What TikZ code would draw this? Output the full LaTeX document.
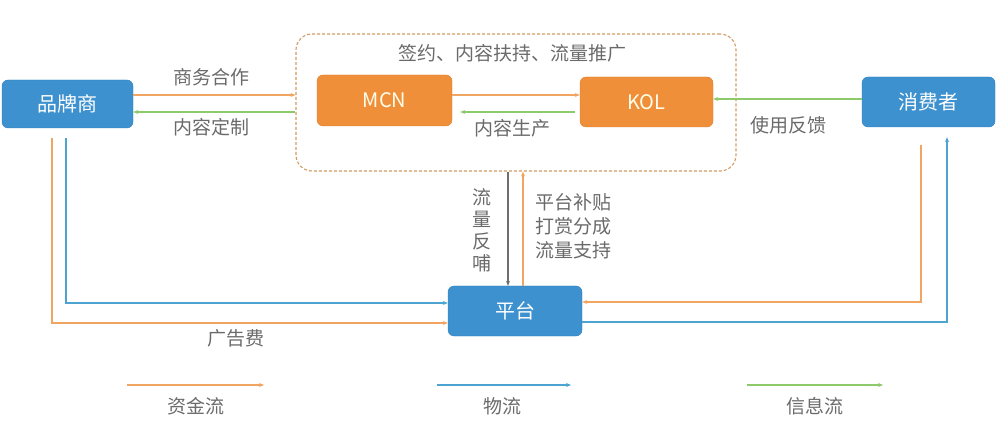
\documentclass[tikz,border=0pt]{standalone}
\usepackage{fontspec}
\setmainfont{Noto Sans CJK SC}
\usetikzlibrary{arrows.meta}
\definecolor{boxblue}{HTML}{3D91CF}
\definecolor{boxblueD}{HTML}{2F7FBC}
\definecolor{boxorange}{HTML}{EF8F3A}
\definecolor{boxorangeD}{HTML}{E07F2C}
\definecolor{lorange}{HTML}{F0A562}
\definecolor{dorange}{HTML}{D29A62}
\definecolor{lgreen}{HTML}{8DCA6C}
\definecolor{lblue}{HTML}{4DA3D2}
\definecolor{lgray}{HTML}{6E6E6E}
\definecolor{txt}{HTML}{6A6A6A}
\tikzset{
  bluebox/.style={draw=boxblueD, fill=boxblue, rounded corners=6pt, text=white,
    minimum width=133pt, minimum height=50pt, inner sep=0pt, font=\fontsize{20}{22}\selectfont},
  orangebox/.style={draw=boxorangeD, fill=boxorange, rounded corners=6pt, text=white!92!yellow,
    minimum width=134pt, minimum height=50pt, inner sep=0pt, font=\fontsize{20}{22}\selectfont},
  container/.style={draw=dorange, line width=1.1pt, dash pattern=on 3pt off 2pt, rounded corners=16pt,
    minimum width=440pt, minimum height=137pt, inner sep=0pt},
  lbl/.style={text=txt, inner sep=0pt, font=\fontsize{19}{24}\selectfont},
  tip/.style={-{Stealth[length=5pt,width=4pt]}},
  money/.style={tip, draw=lorange, line width=1.6pt},
  info/.style={tip, draw=lgreen, line width=1.6pt},
  goods/.style={tip, draw=lblue, line width=1.6pt},
  back/.style={tip, draw=lgray, line width=1.2pt},
}
\begin{document}
\begin{tikzpicture}[x=1pt,y=-1pt]
\useasboundingbox (0,0) rectangle (1000,427);
% nodes
\node[container] (box) at (516,102.5) {};
\node[bluebox, minimum width=131pt, minimum height=48pt] (brand) at (67.5,104) {品牌商};
\node[orangebox, minimum width=135pt, minimum height=51pt] (mcn) at (384.5,100.5) {MCN};
\node[orangebox, minimum width=133pt] (kol) at (646.5,102) {KOL};
\node[bluebox] (cons) at (928.5,102) {消费者};
\node[bluebox, minimum width=134pt] (plat) at (515,311) {平台};
% row coordinates
\coordinate (r1) at (0,95);
\coordinate (r2) at (0,112);
\coordinate (r3) at (0,99);
\coordinate (lo) at (52,323);
\coordinate (lb) at (66,303);
\coordinate (ro) at (921,302);
\coordinate (rb) at (947,322);
\coordinate (vg) at (508,0);
\coordinate (vo) at (523,0);
% connectors
\draw[money] (brand.east |- r1) -- (box.west |- r1);
\draw[info] (box.west |- r2) -- (brand.east |- r2);
\draw[money] (mcn.east |- r1) -- (kol.west |- r1);
\draw[info, shorten <=5pt, shorten >=8pt] (kol.west |- r2) -- (mcn.east |- r2);
\draw[info] (cons.west |- r3) -- (kol.east |- r3);
\draw[back] (box.south -| vg) -- (plat.north -| vg);
\draw[money] (plat.north -| vo) -- (box.south -| vo);
\draw[money, shorten <=10pt] (brand.south -| lo) -- (lo) -- (plat.west |- lo);
\draw[goods, shorten <=10pt] (brand.south -| lb) -- (lb) -- (plat.west |- lb);
\draw[money, shorten <=18pt] (cons.south -| ro) -- (ro) -- (plat.east |- ro);
\draw[goods, shorten >=10pt] (plat.east |- rb) -- (rb) -- (cons.south -| rb);
% labels
\node[lbl] (l1) at (211,77) {商务合作};
\node[lbl] (l2) at (211,127) {内容定制};
\node[lbl] (l3) at (512,53) {签约、内容扶持、流量推广};
\node[lbl] (l4) at (512,128) {内容生产};
\node[lbl] (l5) at (788,125) {使用反馈};
\node[lbl, align=center, font=\fontsize{19}{22}\selectfont] (l6) at (482,230) {流\\量\\反\\哺};
\node[lbl, align=left, anchor=west] (l7) at (535,226) {平台补贴\\打赏分成\\流量支持};
\node[lbl] (l8) at (236,338) {广告费};
% legend
\coordinate (a1) at (127,385); \coordinate (a2) at (264,385);
\coordinate (b1) at (437,385); \coordinate (b2) at (571,385);
\coordinate (c1) at (747,385); \coordinate (c2) at (883,385);
\draw[money, line width=1.4pt] (a1) -- (a2);
\draw[goods, line width=1.4pt] (b1) -- (b2);
\draw[info, line width=1.4pt] (c1) -- (c2);
\node[lbl] (g1) at (196,406) {资金流};
\node[lbl] (g2) at (502,406) {物流};
\node[lbl] (g3) at (815,406) {信息流};
\end{tikzpicture}
\end{document}
